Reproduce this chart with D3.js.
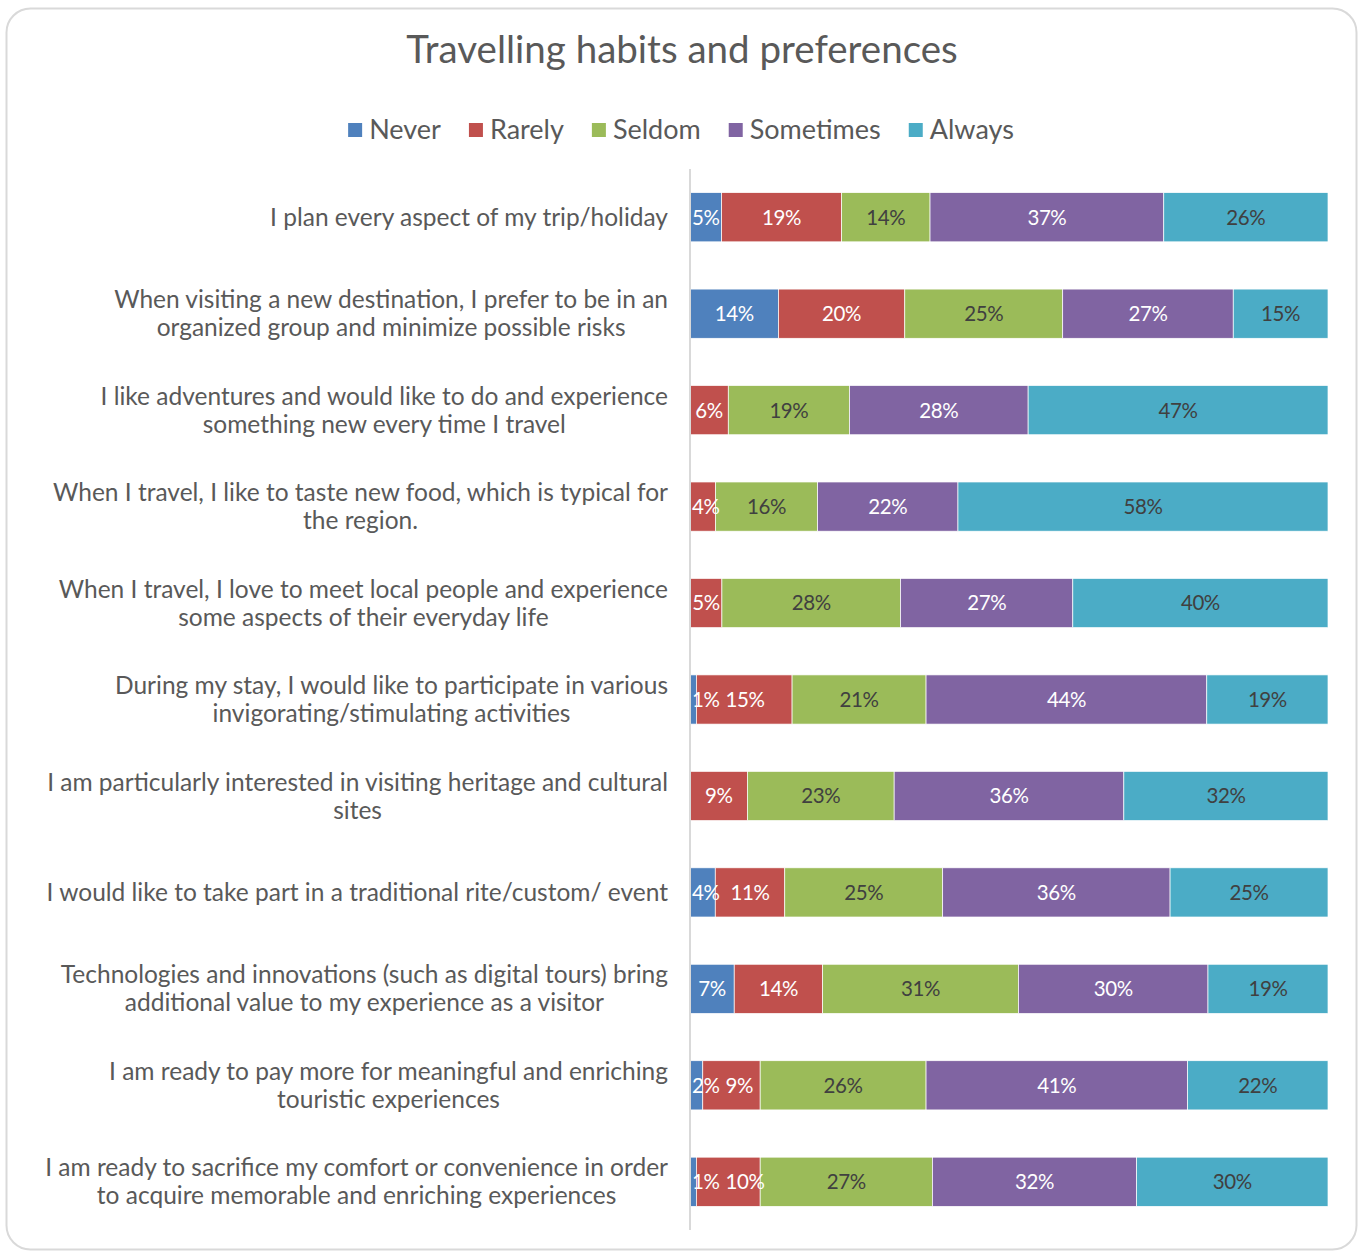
<!DOCTYPE html>
<html>
<head>
<meta charset="utf-8">
<script src="https://cdn.jsdelivr.net/npm/d3@7"></script>
<style>
  html, body { margin: 0; padding: 0; background: #fff; }
  svg { display: block; }
</style>
</head>
<body>
<svg id="chart" width="1360" height="1253"></svg>
<script>
// Survey statements (line breaks kept as shown on the axis)
const categories = [
  ["I plan every aspect of my trip/holiday"],
  ["When visiting a new destination, I prefer to be in an", "organized group and minimize possible risks"],
  ["I like adventures and would like to do and experience", "something new every time I travel"],
  ["When I travel, I like to taste new food, which is typical for", "the region."],
  ["When I travel, I love to meet local people and experience", "some aspects of their everyday life"],
  ["During my stay, I would like to participate in various", "invigorating/stimulating activities"],
  ["I am particularly interested in visiting heritage and cultural", "sites"],
  ["I would like to take part in a traditional rite/custom/ event"],
  ["Technologies and innovations (such as digital tours) bring", "additional value to my experience as a visitor"],
  ["I am ready to pay more for meaningful and enriching", "touristic experiences"],
  ["I am ready to sacrifice my comfort or convenience in order", "to acquire memorable and enriching experiences"]
];

const seriesNames = ["Never", "Rarely", "Seldom", "Sometimes", "Always"];

// Share of respondents (%) per answer
const never     = [5, 14, 0, 0, 0, 1, 0, 4, 7, 2, 1];
const rarely    = [19, 20, 6, 4, 5, 15, 9, 11, 14, 9, 10];
const seldom    = [14, 25, 19, 16, 28, 21, 23, 25, 31, 26, 27];
const sometimes = [37, 27, 28, 22, 27, 44, 36, 36, 30, 41, 32];
const always    = [26, 15, 47, 58, 40, 19, 32, 25, 19, 22, 30];

const seriesColors = ["#4F81BD", "#C0504D", "#9BBB59", "#8064A2", "#4BACC6"];
const labelColors  = ["#ffffff", "#ffffff", "#404040", "#ffffff", "#404040"];

const FONT = "Lato, 'Open Sans', sans-serif";
const TEXT = "#595959";

const svg = d3.select("#chart");

// Frame
svg.append("rect")
  .attr("x", 6.5).attr("y", 8.5)
  .attr("width", 1350).attr("height", 1241)
  .attr("rx", 24).attr("ry", 24)
  .attr("fill", "#fff").attr("stroke", "#d9d9d9").attr("stroke-width", 2);

// Title
svg.append("text")
  .attr("x", 682).attr("y", 63)
  .attr("text-anchor", "middle")
  .attr("font-family", FONT).attr("font-size", 38.5)
  .attr("fill", TEXT)
  .text("Travelling habits and preferences");

// Data table
const rows = categories.map((c, i) => ({
  key: i,
  Never: never[i], Rarely: rarely[i], Seldom: seldom[i],
  Sometimes: sometimes[i], Always: always[i]
}));

const stacked = d3.stack()
  .keys(seriesNames)
  .offset(d3.stackOffsetExpand)(rows);

const margin = { left: 690, right: 1328, top: 169, bottom: 1230 };

const x = d3.scaleLinear().domain([0, 1]).range([margin.left, margin.right]);
const y = d3.scaleBand()
  .domain(rows.map(d => d.key))
  .range([margin.top, margin.bottom])
  .paddingInner(0.49).paddingOuter(0.245);

// Bars
const layers = svg.append("g").selectAll("g")
  .data(stacked).join("g")
  .attr("fill", (d, i) => seriesColors[i]);

layers.selectAll("rect")
  .data(d => d)
  .join("rect")
  .attr("x", d => x(d[0]))
  .attr("y", d => y(d.data.key))
  .attr("width", d => Math.max(0, x(d[1]) - x(d[0])))
  .attr("height", y.bandwidth())
  .attr("stroke", "#ffffff").attr("stroke-width", 0.7);

// Vertical category axis line
svg.append("line")
  .attr("x1", margin.left).attr("x2", margin.left)
  .attr("y1", margin.top).attr("y2", margin.bottom)
  .attr("stroke", "#d9d9d9").attr("stroke-width", 2);

// Data labels, nudged right when a neighbour would overlap
const labelG = svg.append("g")
  .attr("font-family", FONT).attr("font-size", 20.5)
  .attr("letter-spacing", "-0.4px");

rows.forEach((row, ri) => {
  let prevRight = -Infinity;
  stacked.forEach((layer, si) => {
    const v = row[seriesNames[si]];
    if (!v) return;
    const seg = layer[ri];
    const cx = (x(seg[0]) + x(seg[1])) / 2;
    const t = labelG.append("text")
      .attr("y", y(row.key) + y.bandwidth() / 2)
      .attr("dy", "0.36em")
      .attr("text-anchor", "middle")
      .attr("fill", labelColors[si])
      .text(v + "%");
    const w = t.node().getComputedTextLength();
    let left = cx - w / 2;
    left = Math.max(left, margin.left + 2, prevRight + 6);
    t.attr("x", left + w / 2);
    prevRight = left + w;
  });
});

// Category labels: each block right-aligned to the axis, lines centred within it
const catG = svg.append("g")
  .attr("font-family", FONT).attr("font-size", 24.5).attr("fill", TEXT);
const lineH = 28;
const rightEdge = 668;

categories.forEach((lines, i) => {
  const cy = y(i) + y.bandwidth() / 2;
  const g = catG.append("g");
  const texts = lines.map((ln, k) => g.append("text")
    .attr("text-anchor", "middle")
    .attr("y", cy + (k - (lines.length - 1) / 2) * lineH)
    .attr("dy", "0.35em")
    .text(ln));
  const maxW = d3.max(texts, t => t.node().getComputedTextLength());
  texts.forEach(t => t.attr("x", rightEdge - maxW / 2));
});

// Legend
const legend = svg.append("g")
  .attr("font-family", FONT).attr("font-size", 27).attr("fill", TEXT);
const sq = 14, gapSq = 7, gapItem = 28;
const items = seriesNames.map((name, i) => {
  const g = legend.append("g");
  g.append("rect").attr("width", sq).attr("height", sq)
    .attr("y", -sq / 2).attr("fill", seriesColors[i]);
  const t = g.append("text").attr("x", sq + gapSq).attr("dy", "0.35em").text(name);
  return { g, w: sq + gapSq + t.node().getComputedTextLength() };
});
const totalW = d3.sum(items, d => d.w) + gapItem * (items.length - 1);
let lx = 681 - totalW / 2;
items.forEach(it => {
  it.g.attr("transform", `translate(${lx},130)`);
  lx += it.w + gapItem;
});
</script>
</body>
</html>
